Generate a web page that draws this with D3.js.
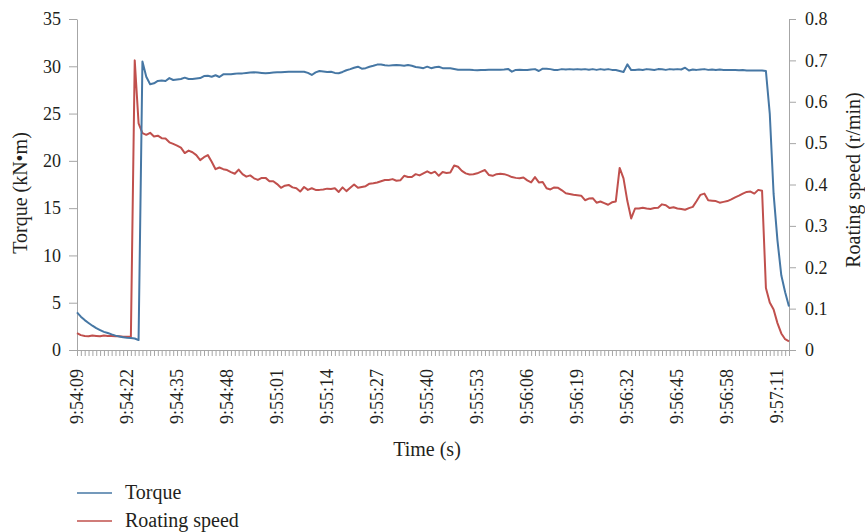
<!DOCTYPE html>
<html>
<head>
<meta charset="utf-8">
<script src="https://cdn.jsdelivr.net/npm/d3@7"></script>
<style>
  body { margin: 0; background: #fff; }
  svg text { font-family: "Liberation Serif", "Times New Roman", serif; fill: #231f20; }
</style>
</head>
<body>
<div id="chart"></div>
<script>
// sampled once per second, first sample 9:54:09
var startTime = "9:54:09";
var tickLabels = ["9:54:09", "9:54:22", "9:54:35", "9:54:48", "9:55:01", "9:55:14", "9:55:27",
  "9:55:40", "9:55:53", "9:56:06", "9:56:19", "9:56:32", "9:56:45", "9:56:58", "9:57:11"];

// torque, kN*m
var torque = [
  3.98, 3.52, 3.16, 2.86, 2.57, 2.31, 2.11, 1.92, 1.80, 1.65, 1.52, 1.42, 1.34, 1.30, 1.27, 1.22, 1.05, 30.5, 28.9, 28.1,
  28.2, 28.45, 28.5, 28.45, 28.75, 28.55, 28.6, 28.65, 28.8, 28.65, 28.65, 28.7, 28.75, 28.97, 29.0, 28.9, 29.05, 28.87, 29.15, 29.15,
  29.15, 29.2, 29.25, 29.25, 29.3, 29.35, 29.36, 29.33, 29.3, 29.26, 29.3, 29.33, 29.36, 29.36, 29.4, 29.42, 29.43, 29.43, 29.43, 29.43,
  29.3, 29.08, 29.35, 29.5, 29.45, 29.4, 29.43, 29.3, 29.26, 29.4, 29.58, 29.7, 29.85, 29.96, 29.75, 29.8, 29.95, 30.05, 30.18, 30.2,
  30.12, 30.07, 30.1, 30.13, 30.1, 30.06, 30.13, 30.05, 29.92, 29.88, 29.8, 29.96, 29.8, 29.9, 29.95, 29.8, 29.8, 29.8, 29.72, 29.64,
  29.64, 29.64, 29.64, 29.6, 29.57, 29.6, 29.62, 29.64, 29.64, 29.64, 29.64, 29.66, 29.72, 29.43, 29.62, 29.64, 29.62, 29.6, 29.66, 29.7,
  29.5, 29.75, 29.75, 29.7, 29.6, 29.62, 29.7, 29.65, 29.7, 29.65, 29.7, 29.65, 29.7, 29.64, 29.7, 29.62, 29.7, 29.64, 29.7, 29.62,
  29.6, 29.5, 29.4, 30.2, 29.6, 29.6, 29.65, 29.6, 29.7, 29.66, 29.6, 29.7, 29.68, 29.62, 29.7, 29.65, 29.7, 29.66, 29.85, 29.55,
  29.65, 29.62, 29.66, 29.7, 29.62, 29.66, 29.6, 29.65, 29.62, 29.6, 29.62, 29.6, 29.58, 29.6, 29.55, 29.56, 29.55, 29.55, 29.55, 29.5,
  25.0, 16.5, 11.6, 7.9, 6.1, 4.6
];

// rotating speed, r/min
var speed = [
  0.041, 0.036, 0.034, 0.033, 0.035, 0.034, 0.033, 0.035, 0.034, 0.034, 0.033, 0.033, 0.032, 0.032, 0.032, 0.70, 0.548, 0.524, 0.52, 0.525,
  0.516, 0.518, 0.512, 0.511, 0.502, 0.498, 0.494, 0.489, 0.476, 0.482, 0.478, 0.471, 0.459, 0.466, 0.471, 0.455, 0.437, 0.441, 0.437, 0.435,
  0.430, 0.426, 0.436, 0.425, 0.419, 0.422, 0.415, 0.411, 0.416, 0.416, 0.408, 0.408, 0.401, 0.392, 0.397, 0.399, 0.393, 0.391, 0.383, 0.394,
  0.387, 0.391, 0.387, 0.387, 0.388, 0.390, 0.389, 0.391, 0.382, 0.393, 0.384, 0.392, 0.400, 0.392, 0.394, 0.396, 0.402, 0.403, 0.405, 0.408,
  0.411, 0.411, 0.413, 0.409, 0.410, 0.421, 0.418, 0.418, 0.425, 0.422, 0.427, 0.432, 0.427, 0.431, 0.421, 0.430, 0.428, 0.429, 0.446, 0.443,
  0.433, 0.427, 0.424, 0.425, 0.427, 0.431, 0.435, 0.423, 0.421, 0.425, 0.426, 0.425, 0.422, 0.418, 0.416, 0.415, 0.417, 0.410, 0.405, 0.418,
  0.405, 0.406, 0.391, 0.388, 0.393, 0.392, 0.386, 0.379, 0.377, 0.375, 0.374, 0.373, 0.362, 0.366, 0.367, 0.356, 0.359, 0.355, 0.351, 0.357,
  0.359, 0.44, 0.415, 0.36, 0.318, 0.342, 0.342, 0.344, 0.342, 0.341, 0.343, 0.344, 0.352, 0.350, 0.343, 0.345, 0.342, 0.341, 0.339, 0.343,
  0.346, 0.360, 0.375, 0.378, 0.362, 0.361, 0.360, 0.356, 0.358, 0.360, 0.364, 0.369, 0.373, 0.378, 0.382, 0.383, 0.378, 0.387, 0.385, 0.15,
  0.115, 0.098, 0.065, 0.040, 0.026, 0.021
];

var torqueTicks = [0, 5, 10, 15, 20, 25, 30, 35];
var speedTicks = [0, 0.1, 0.2, 0.3, 0.4, 0.5, 0.6, 0.7, 0.8];

var blue = "#4677a4", red = "#c0504d", axisGrey = "#a6a6a6";

var width = 865, height = 532;
var margin = {top: 19, right: 76, bottom: 182, left: 77};
var plotW = width - margin.left - margin.right,
    plotH = height - margin.top - margin.bottom;

// category labels, one per sample
var parseT = d3.timeParse("%H:%M:%S"), fmtT = d3.timeFormat("%-H:%M:%S");
var t0 = parseT(startTime);
var times = torque.map(function(d, i) { return fmtT(d3.timeSecond.offset(t0, i)); });

var svg = d3.select("#chart").append("svg")
  .attr("width", width).attr("height", height);

var g = svg.append("g")
  .attr("transform", "translate(" + margin.left + "," + margin.top + ")");

var x = d3.scalePoint().domain(times).range([0, plotW]);
var yL = d3.scaleLinear().domain([0, 35]).range([plotH, 0]);
var yR = d3.scaleLinear().domain([0, 0.8]).range([plotH, 0]);

// x axis: a tick on every sample, label every 13th
var xAxis = g.append("g")
  .attr("transform", "translate(0," + plotH + ")")
  .call(d3.axisBottom(x).tickSizeOuter(0).tickSize(6).tickFormat(""));
xAxis.selectAll("line, path").attr("stroke", axisGrey);

g.append("g").selectAll("text")
  .data(tickLabels)
  .enter().append("text")
  .attr("transform", function(d) { return "translate(" + x(d) + "," + (plotH + 19) + ")rotate(-90)"; })
  .attr("text-anchor", "end")
  .attr("dy", "0.33em")
  .style("font-size", "18px")
  .text(function(d) { return d; });

// left axis
var leftAxis = g.append("g")
  .call(d3.axisLeft(yL).tickValues(torqueTicks).tickSize(8).tickSizeOuter(0).tickPadding(8));
leftAxis.selectAll("line, path").attr("stroke", axisGrey);
leftAxis.selectAll("text").style("font-size", "18px").style("font-family", "Liberation Serif").attr("fill", "#231f20");

// right axis
var rightAxis = g.append("g")
  .attr("transform", "translate(" + plotW + ",0)")
  .call(d3.axisRight(yR).tickValues(speedTicks).tickSize(7).tickSizeOuter(0).tickPadding(9)
    .tickFormat(function(d) { return d === 0 ? "0" : d3.format(".1f")(d); }));
rightAxis.selectAll("line, path").attr("stroke", axisGrey);
rightAxis.selectAll("text").style("font-size", "18px").style("font-family", "Liberation Serif").attr("fill", "#231f20");

// lines
var torqueLine = d3.line()
  .x(function(d, i) { return x(times[i]); })
  .y(function(d) { return yL(d); });
var speedLine = d3.line()
  .x(function(d, i) { return x(times[i]); })
  .y(function(d) { return yR(d); });

g.append("path").datum(speed)
  .attr("fill", "none").attr("stroke", red).attr("stroke-width", 2)
  .attr("stroke-linejoin", "round")
  .attr("d", speedLine);

g.append("path").datum(torque)
  .attr("fill", "none").attr("stroke", blue).attr("stroke-width", 2)
  .attr("stroke-linejoin", "round")
  .attr("d", torqueLine);

// axis titles
svg.append("text")
  .attr("transform", "translate(20,193)rotate(-90)")
  .attr("text-anchor", "middle").attr("dy", "0.35em")
  .style("font-size", "20px")
  .text("Torque (kN\u2022m)");

svg.append("text")
  .attr("transform", "translate(853,180)rotate(-90)")
  .attr("text-anchor", "middle").attr("dy", "0.35em")
  .style("font-size", "20px")
  .text("Roating speed (r/min)");

svg.append("text")
  .attr("x", 427).attr("y", 456)
  .attr("text-anchor", "middle")
  .style("font-size", "20px")
  .text("Time (s)");

// legend
var legend = [{name: "Torque", color: blue}, {name: "Roating speed", color: red}];
var lg = svg.append("g").selectAll("g")
  .data(legend).enter().append("g")
  .attr("transform", function(d, i) { return "translate(77," + (493 + i * 28) + ")"; });
lg.append("line")
  .attr("x1", 0).attr("x2", 35).attr("y1", 0).attr("y2", 0)
  .attr("stroke", function(d) { return d.color; }).attr("stroke-width", 1.3);
lg.append("text")
  .attr("x", 48).attr("y", 6)
  .style("font-size", "20px")
  .text(function(d) { return d.name; });
</script>
</body>
</html>
